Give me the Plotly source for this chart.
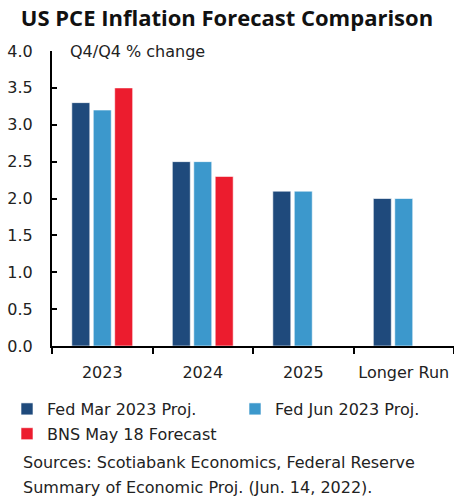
import plotly.graph_objects as go

categories = ["2023", "2024", "2025", "Longer Run"]
fed_mar = [3.3, 2.5, 2.1, 2.0]
fed_jun = [3.2, 2.5, 2.1, 2.0]
bns_may = [3.5, 2.3, None, None]
series_names = ["Fed Mar 2023 Proj.", "Fed Jun 2023 Proj.", "BNS May 18 Forecast"]
y_ticks = [0, 0.5, 1.0, 1.5, 2.0, 2.5, 3.0, 3.5, 4.0]
source_lines = ["Sources: Scotiabank Economics, Federal Reserve",
                "Summary of Economic Proj. (Jun. 14, 2022)."]

FONT = "DejaVu Sans"
TFONT = "Open Sans"
colors = ["#1f4a7c", "#3c98cc", "#ec1c2e"]
legends = ["legend", "legend2", "legend"]
W, H = 454, 502

fig = go.Figure()
for name, vals, c, lg in zip(series_names, [fed_mar, fed_jun, bns_may], colors, legends):
    fig.add_trace(go.Bar(x=categories, y=vals, name=name, legend=lg, legendgroup=name,
                         marker=dict(color=c, line=dict(color="rgba(255,255,255,0.6)", width=1))))

leg_common = dict(orientation="v", xref="container", yref="container", xanchor="left",
                  yanchor="top", font=dict(size=16), itemclick=False, traceorder="grouped",
                  tracegroupgap=1, bgcolor="rgba(0,0,0,0)")

fig.update_layout(
    width=W, height=H,
    margin=dict(l=52, r=0, t=51, b=156, autoexpand=False),
    paper_bgcolor="white", plot_bgcolor="white",
    barmode="group", bargap=0.36, bargroupgap=0.16,
    font=dict(family=FONT, size=16, color="#222222"),
    title=dict(text="<b>US PCE Inflation Forecast Comparison</b>", x=0.5, xanchor="center",
               y=1 - 18 / H, yanchor="middle", font=dict(size=22, color="#111111", family=TFONT)),
    xaxis=dict(showline=True, linecolor="black", linewidth=2, ticks="outside", ticklen=6,
               tickcolor="black", tickwidth=2, tickson="boundaries", showgrid=False,
               ticklabelstandoff=11, tickangle=0, automargin=False, tickfont=dict(size=16)),
    yaxis=dict(range=[0, 4], tickvals=y_ticks, ticktext=[f"{v:.1f}" for v in y_ticks],
               showline=True, linecolor="black", linewidth=2, ticks="inside", ticklen=5,
               tickcolor="black", tickwidth=2, showgrid=False, zeroline=False, automargin=False,
               ticklabelstandoff=14, tickfont=dict(size=16)),
    showlegend=True,
    legend=dict(x=7 / W, y=1 - 392 / H, **leg_common),
    legend2=dict(x=235 / W, y=1 - 392 / H, **leg_common),
)

fig.add_annotation(text="Q4/Q4 % change", xref="paper", yref="paper", x=(68 - 52) / 402, y=1.0,
                   xanchor="left", yanchor="middle", showarrow=False, font=dict(size=16))
for i, line in enumerate(source_lines):
    fig.add_annotation(text=line, xref="paper", yref="paper", x=-31 / 402,
                       y=-(462 + 25 * i - 346) / 295, xanchor="left", yanchor="middle",
                       align="left", showarrow=False, font=dict(size=16))

fig.write_html("out.html")
